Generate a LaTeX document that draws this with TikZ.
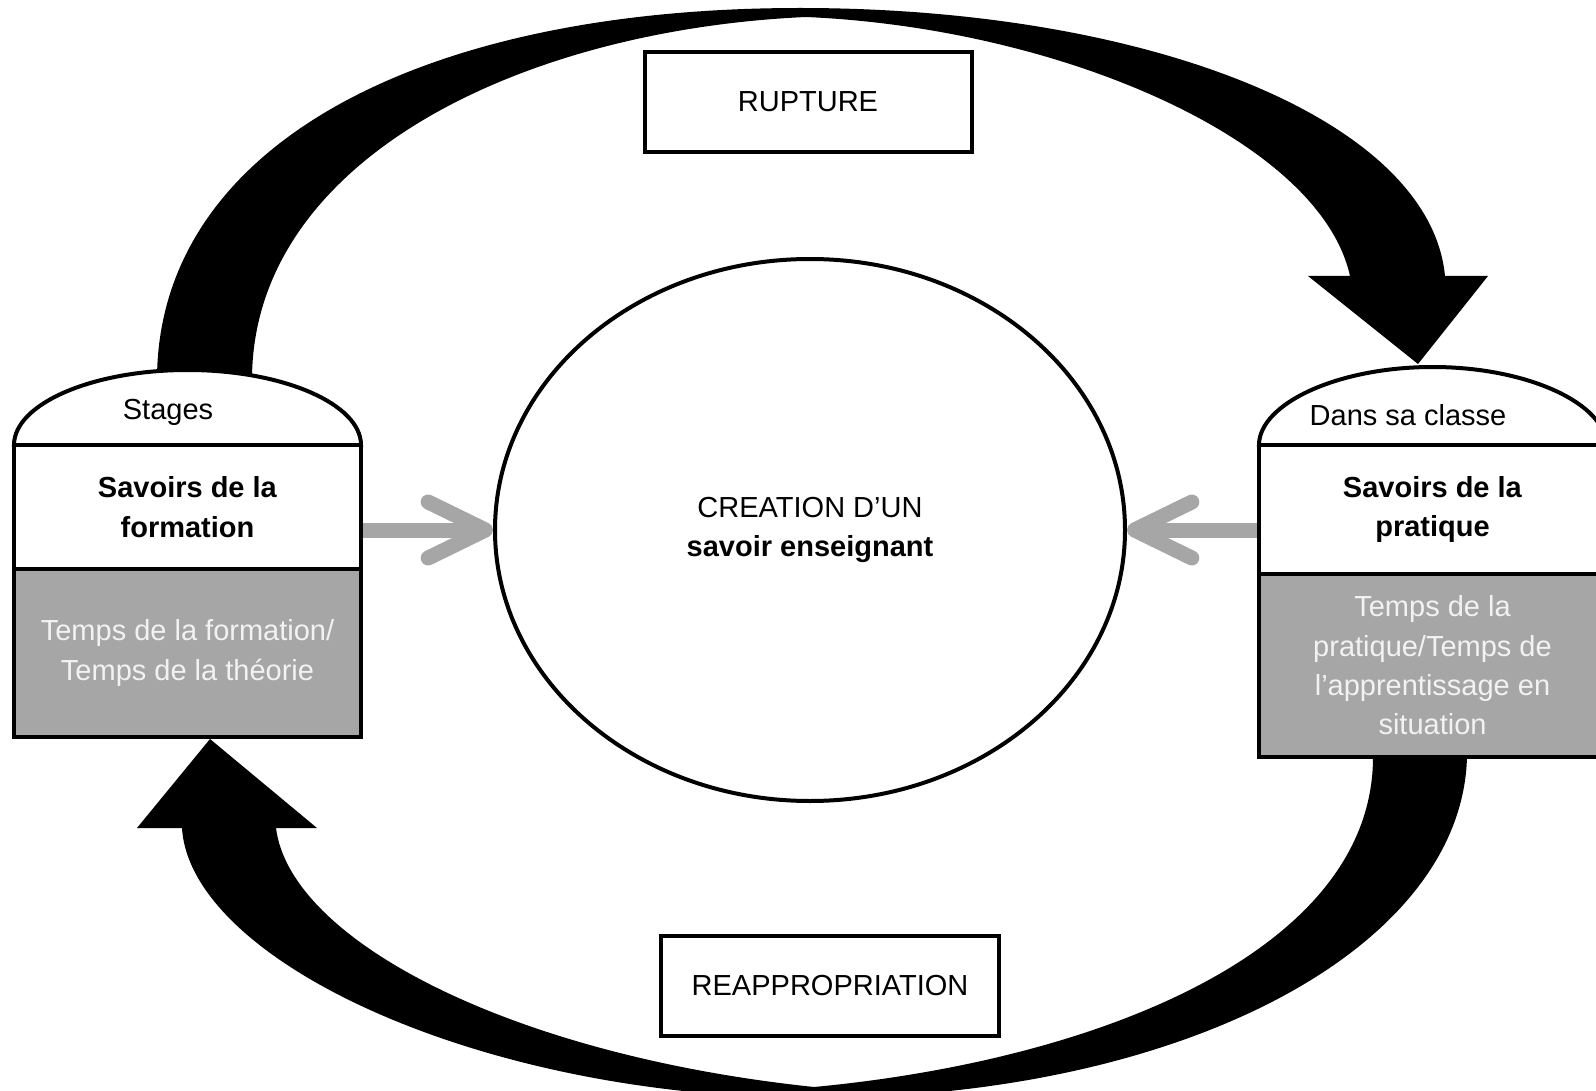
\documentclass[tikz,border=0pt]{standalone}
\usepackage{fontspec}
\setmainfont{Liberation Sans}
\usetikzlibrary{shapes.geometric,arrows.meta}
\definecolor{boxgrey}{HTML}{A6A6A6}
\definecolor{palegrey}{HTML}{F2F2F2}
\tikzset{every picture/.style={line width=0.75pt}}

\begin{document}
\begin{tikzpicture}[x=0.75pt,y=0.75pt,yscale=-1,xscale=1,
  txt/.style={font=\fontsize{21.75}{29.5}\selectfont, align=center, inner sep=0.75pt},
  secbox/.style={txt, draw, line width=3pt, fill=white, minimum width=260.25pt},
  tagbox/.style={txt, draw, line width=3pt, fill=white, minimum height=75pt},
  feed/.style={draw=boxgrey, line width=11.25pt, -{Straight Barb[length=43pt,width=42pt,round]}}]
\useasboundingbox (0,0) rectangle (1596,1091);
\clip (0,0) rectangle (1596,1091);

%Shape: Curved Arrow (top)
\fill (157,385) -- (157,380) .. controls (157,149) and (414,8) .. (800,8) .. controls (1150,8) and (1430,120) .. (1445,276) -- (1488,276) -- (1418,364) -- (1308,276) -- (1350,276) .. controls (1320,140) and (1060,28) .. (806,17) .. controls (520,30) and (252,160) .. (252,380) -- (252,385) -- cycle ;
%Shape: Curved Arrow (bottom)
\fill (1467,745) -- (1467,757) .. controls (1462,950) and (1180,1098) .. (814,1098) .. controls (480,1098) and (190,960) .. (182,828) -- (137,828) -- (210,739) -- (317,828) -- (276,828) .. controls (290,940) and (510,1055) .. (814,1087) .. controls (1100,1060) and (1373,950) .. (1373,757) -- (1373,745) -- cycle ;

%Shape: Left box
\draw [line width=3pt, fill=white] (14,445) .. controls (14,404) and (92,370) .. (187.5,370) .. controls (283,370) and (361,404) .. (361,445) -- cycle ;
\node [secbox, minimum height=93pt] (lsav) at (187.5,507) {\textbf{Savoirs de la}\\\textbf{formation}};
\node [secbox, fill=boxgrey, text=palegrey, minimum height=126pt] (ltps) at (187.5,653) {Temps de la formation/\\Temps de la théorie};
% Text Node
\node [txt] (lstage) at (168,412) {Stages};

%Shape: Right box
\draw [line width=3pt, fill=white] (1259,445) .. controls (1259,404) and (1337,367) .. (1432.5,367) .. controls (1528,367) and (1606,404) .. (1606,445) -- cycle ;
\node [secbox, minimum height=96.75pt] (rsav) at (1432.5,509.5) {\textbf{Savoirs de la}\\\textbf{pratique}};
\node [secbox, fill=boxgrey, text=palegrey, minimum height=137.25pt] (rtps) at (1432.5,665.5) {Temps de la\\pratique/Temps de\\l’apprentissage en\\situation};
% Text Node
\node [txt] (rclass) at (1408,415) {Dans sa classe};

%Shape: Ellipse
\node [txt, draw, ellipse, line width=3pt, inner sep=0pt, minimum width=472.5pt, minimum height=406.5pt] (ell) at (810,530) {CREATION D’UN\\\textbf{savoir enseignant}};

%Shape: Rectangle
\node [tagbox, minimum width=245.25pt] (rupt) at (808,102) {RUPTURE};
\node [tagbox, minimum width=253.5pt] (reapp) at (830,986) {REAPPROPRIATION};

%Straight Lines
\draw [feed] (lsav.east |- ell.west) -- (ell.west) ;
\draw [feed] (rsav.west |- ell.east) -- (ell.east) ;

\end{tikzpicture}
\end{document}
